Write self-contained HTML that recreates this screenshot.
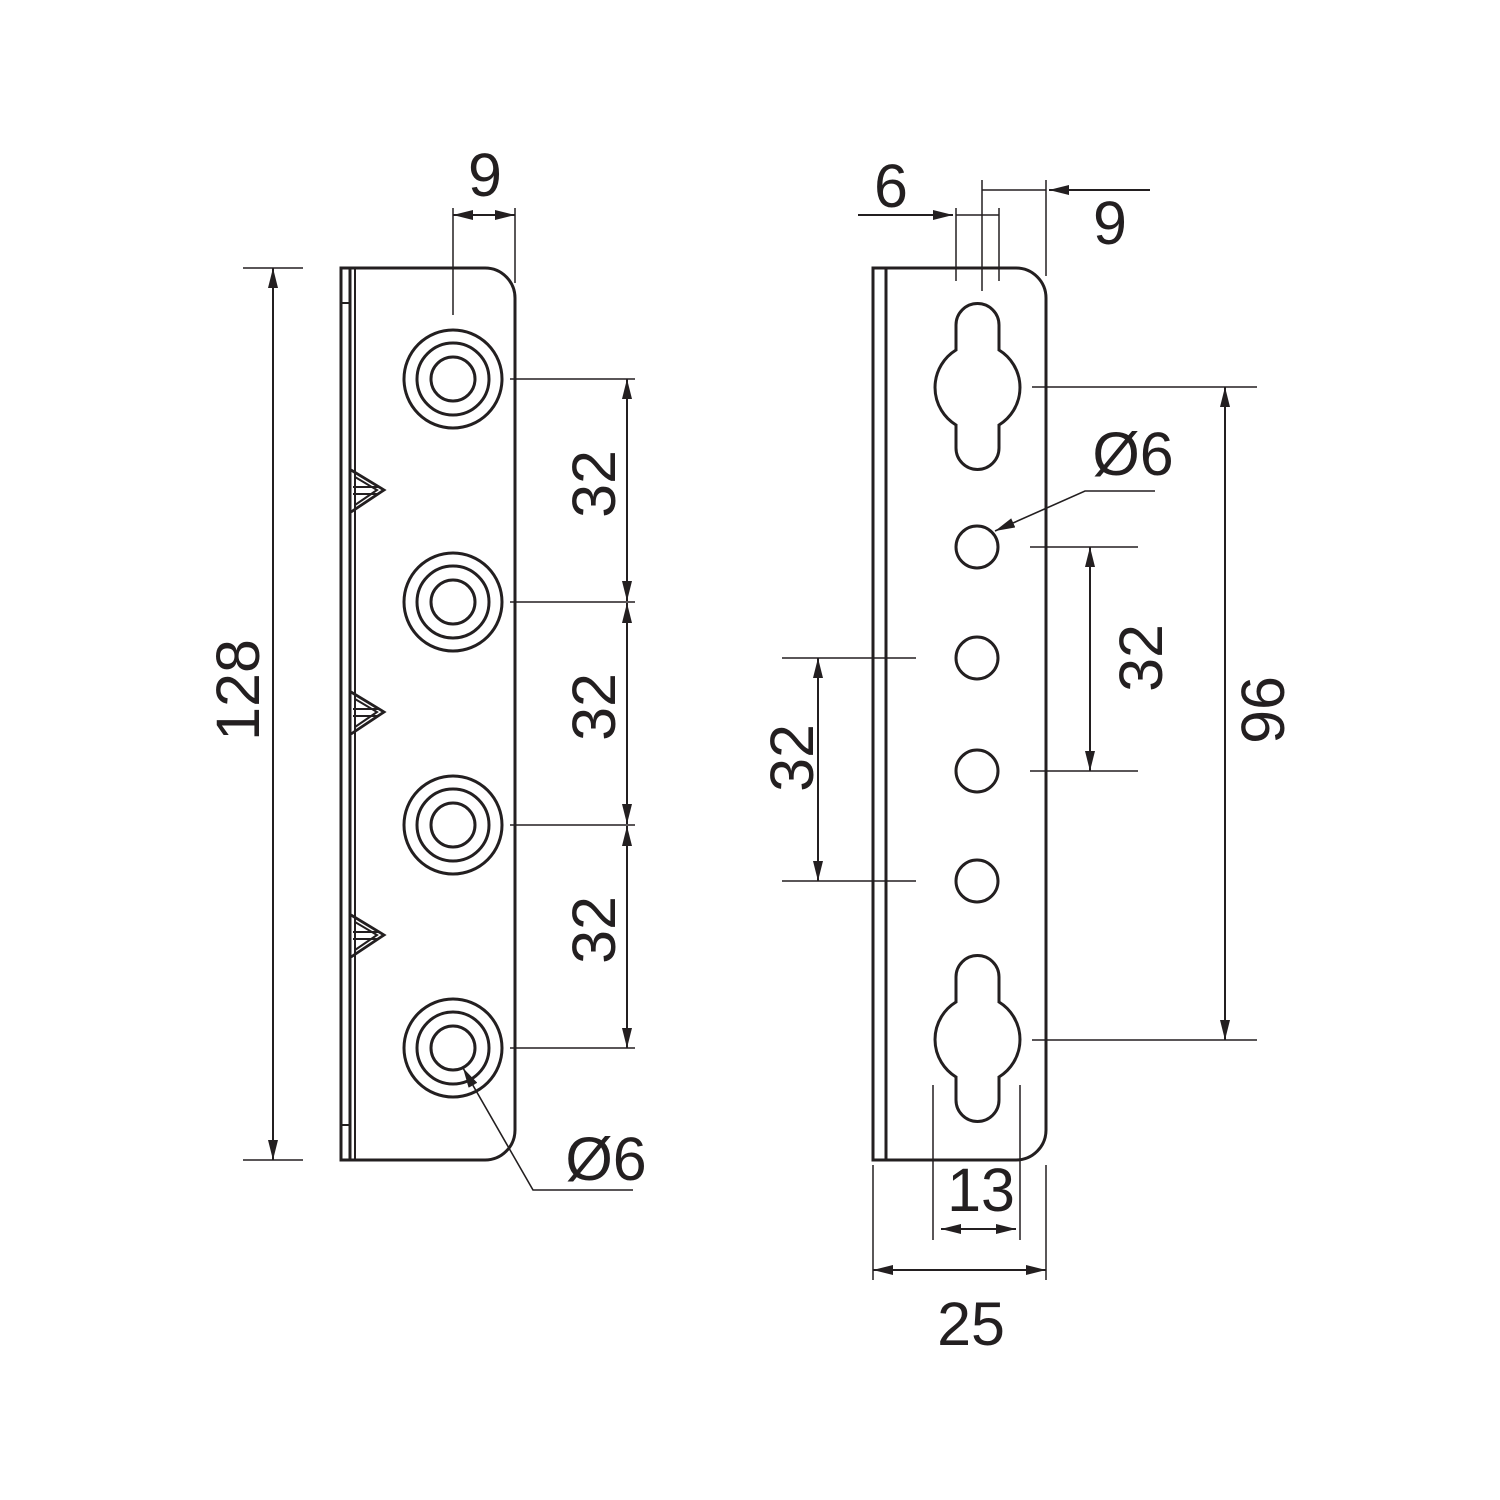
<!DOCTYPE html>
<html><head><meta charset="utf-8"><style>
html,body{margin:0;padding:0;background:#fff}
svg{display:block}
text{font-family:"Liberation Sans",sans-serif;font-size:61px;fill:#231f20}
</style></head><body>
<svg width="1500" height="1500" viewBox="0 0 1500 1500" xmlns="http://www.w3.org/2000/svg">
<defs>
<marker id="a" viewBox="0 0 20 10" refX="20" refY="5" markerWidth="20" markerHeight="10" markerUnits="userSpaceOnUse" orient="auto-start-reverse"><path d="M0,0L20,5L0,10Z" fill="#231f20"/></marker>
</defs>
<g fill="none" stroke="#231f20" stroke-width="3">
<!-- Left plate -->
<path d="M341,268H485A30,30 0 0 1 515,298V1130A30,30 0 0 1 485,1160H341Z"/>
<line x1="350" y1="268" x2="350" y2="1160"/>
<line x1="355" y1="268" x2="355" y2="1160" stroke-width="2"/>
<line x1="341" y1="303" x2="350" y2="303" stroke-width="2"/>
<line x1="341" y1="1125" x2="350" y2="1125" stroke-width="2"/>
<g id="c"><circle cx="453" cy="379" r="49"/><circle cx="453" cy="379" r="36"/><circle cx="453" cy="379" r="22"/></g>
<use href="#c" y="223"/><use href="#c" y="446"/><use href="#c" y="669"/>
<g id="t"><path d="M351,470L384,490L351,512" stroke-width="2.8"/><path d="M355,477L377,490L355,505" stroke-width="2"/><line x1="353" y1="487" x2="378" y2="487" stroke-width="2"/><line x1="353" y1="494" x2="378" y2="494" stroke-width="2"/></g>
<use href="#t" y="222"/><use href="#t" y="445"/>

<!-- Right plate -->
<path d="M873,268H1016A30,30 0 0 1 1046,298V1130A30,30 0 0 1 1016,1160H873Z"/>
<line x1="886" y1="268" x2="886" y2="1160"/>
<path id="k" d="M956,350V325A21.5,21.5 0 0 1 999,325V350A44,44 0 0 1 999,425V448A21.5,21.5 0 0 1 956,448V425A44,44 0 0 1 956,350Z"/>
<use href="#k" y="652"/>
<circle cx="977" cy="547" r="21"/><circle cx="977" cy="658" r="21"/><circle cx="977" cy="771" r="21"/><circle cx="977" cy="881" r="21"/>
</g>

<g fill="none" stroke="#231f20" stroke-width="1.5">
<!-- left dims -->
<line x1="243" y1="268" x2="303" y2="268"/><line x1="243" y1="1160" x2="303" y2="1160"/>
<line x1="273" y1="268" x2="273" y2="1160" marker-start="url(#a)" marker-end="url(#a)" stroke-width="2"/>
<line x1="510" y1="379" x2="635" y2="379"/><line x1="510" y1="602" x2="635" y2="602"/><line x1="510" y1="825" x2="635" y2="825"/><line x1="510" y1="1048" x2="635" y2="1048"/>
<line x1="627" y1="379" x2="627" y2="601" marker-start="url(#a)" marker-end="url(#a)" stroke-width="2"/>
<line x1="627" y1="603" x2="627" y2="824" marker-start="url(#a)" marker-end="url(#a)" stroke-width="2"/>
<line x1="627" y1="826" x2="627" y2="1048" marker-start="url(#a)" marker-end="url(#a)" stroke-width="2"/>
<line x1="453" y1="208" x2="453" y2="315"/><line x1="515" y1="208" x2="515" y2="283"/>
<line x1="453" y1="215" x2="515" y2="215" marker-start="url(#a)" marker-end="url(#a)" stroke-width="2"/>
<polyline points="633,1190 533,1190 463,1068" marker-end="url(#a)" stroke-width="1.6"/>

<!-- right dims -->
<line x1="956" y1="208" x2="956" y2="281"/><line x1="999" y1="208" x2="999" y2="281"/><line x1="982" y1="180" x2="982" y2="291"/>
<line x1="956" y1="215" x2="999" y2="215"/>
<line x1="858" y1="215" x2="953" y2="215" marker-end="url(#a)" stroke-width="2"/>
<line x1="1046" y1="180" x2="1046" y2="276"/>
<line x1="982" y1="190" x2="1046" y2="190"/>
<line x1="1150" y1="190" x2="1049" y2="190" marker-end="url(#a)" stroke-width="2"/>
<line x1="1032" y1="387" x2="1257" y2="387"/><line x1="1032" y1="1040" x2="1257" y2="1040"/>
<line x1="1225" y1="387" x2="1225" y2="1040" marker-start="url(#a)" marker-end="url(#a)" stroke-width="2"/>
<line x1="1030" y1="547" x2="1138" y2="547"/><line x1="1030" y1="771" x2="1138" y2="771"/>
<line x1="1090" y1="547" x2="1090" y2="771" marker-start="url(#a)" marker-end="url(#a)" stroke-width="2"/>
<line x1="782" y1="658" x2="916" y2="658"/><line x1="782" y1="881" x2="916" y2="881"/>
<line x1="818" y1="658" x2="818" y2="881" marker-start="url(#a)" marker-end="url(#a)" stroke-width="2"/>
<polyline points="1155,491 1085,491 995,531" marker-end="url(#a)" stroke-width="1.6"/>
<line x1="933" y1="1085" x2="933" y2="1240"/><line x1="1020" y1="1085" x2="1020" y2="1240"/>
<line x1="941" y1="1229" x2="1016" y2="1229" marker-start="url(#a)" marker-end="url(#a)" stroke-width="2"/>
<line x1="873" y1="1165" x2="873" y2="1280"/><line x1="1046" y1="1165" x2="1046" y2="1280"/>
<line x1="873" y1="1270" x2="1046" y2="1270" marker-start="url(#a)" marker-end="url(#a)" stroke-width="2"/>
</g>

<g text-anchor="middle">
<text x="485" y="196">9</text>
<text transform="translate(259,690) rotate(-90)">128</text>
<text transform="translate(615,484) rotate(-90)">32</text>
<text transform="translate(615,707) rotate(-90)">32</text>
<text transform="translate(615,930) rotate(-90)">32</text>
<text x="606" y="1180">Ø6</text>
<text x="891" y="207">6</text>
<text x="1110" y="244">9</text>
<text x="1133" y="475">Ø6</text>
<text transform="translate(1162,658) rotate(-90)">32</text>
<text transform="translate(1284,710) rotate(-90)">96</text>
<text transform="translate(813,758) rotate(-90)">32</text>
<text x="981" y="1211">13</text>
<text x="971" y="1345">25</text>
</g>
</svg>
</body></html>
